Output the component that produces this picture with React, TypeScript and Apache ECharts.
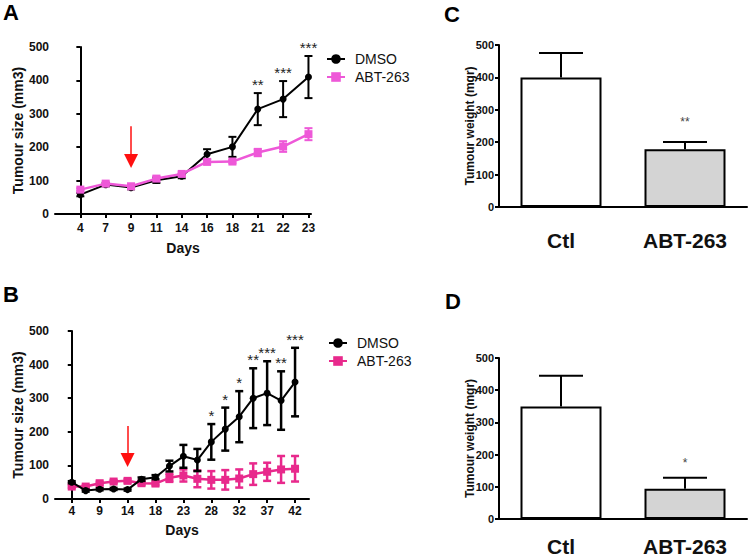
import React, { useEffect, useRef } from 'react';
import * as echarts from 'echarts';

// ---------- Panel A ----------
const daysA = ['4', '7', '9', '11', '14', '16', '18', '21', '22', '23'];
const dmsoA = [58, 88, 79, 101, 113, 179, 201, 314, 344, 410];
const dmsoAErr = [5, 5, 5, 8, 6, 15, 30, 48, 54, 63];
const abtA = [73, 91, 83, 106, 120, 156, 157, 184, 202, 239];
const abtAErr = [4, 4, 4, 6, 5, 6, 5, 11, 16, 18];
const sigA = ['', '', '', '', '', '', '', '**', '***', '***'];
const arrowA = { idx: 2, from: 263, to: 159 };

// ---------- Panel B ----------
const daysB = ['4', '', '9', '', '14', '', '18', '', '23', '', '28', '', '32', '', '37', '', '42'];
const dmsoB = [50, 25, 29, 30, 28, 59, 65, 98, 127, 116, 170, 208, 245, 300, 315, 293, 348];
const dmsoBErr = [3, 3, 3, 3, 3, 5, 6, 16, 34, 33, 53, 64, 76, 89, 95, 87, 102];
const abtB = [37, 37, 47, 52, 54, 47, 46, 63, 70, 60, 57, 57, 61, 74, 81, 88, 90];
const abtBErr = [4, 4, 4, 4, 5, 5, 5, 12, 18, 25, 26, 29, 27, 32, 27, 40, 38];
const sigB = ['', '', '', '', '', '', '', '', '', '', '*', '*', '*', '**', '***', '**', '***'];
const arrowB = { idx: 4, from: 217, to: 116 };

// ---------- Panels C & D ----------
const groups = ['Ctl', 'ABT-263'];
const weightC = [400, 178];
const weightCErr = [75, 23];
const sigC = ['', '**'];
const weightD = [349, 94];
const weightDErr = [96, 34];
const sigD = ['', '*'];

const FONT = '"Liberation Sans", Arial, Helvetica, sans-serif';
const TXT = '#111';
const PINK_A = '#ee58d8';
const PINK_B = '#e8298c';
const BAR_FILLS = ['#ffffff', '#d4d4d4'];

function errSeries(
  xAxisIndex: number,
  yAxisIndex: number,
  means: number[],
  errs: number[],
  sigs: string[],
  color: string,
  lw: number,
  capW: number,
  both: boolean,
  sigFont: string,
  sigColor: string,
  sigGap: number,
  z: number
) {
  const data = means.map((m, i) => [i, m - errs[i], m + errs[i], m]);
  return {
    type: 'custom',
    xAxisIndex,
    yAxisIndex,
    z,
    silent: true,
    clip: false,
    color: sigColor,
    itemStyle: { color: sigColor },
    encode: { x: 0, y: [1, 2] },
    data,
    renderItem: (params: any, api: any) => {
      const x = api.value(0);
      const lo = api.value(1);
      const hi = api.value(2);
      const m = api.value(3);
      const top = api.coord([x, hi]);
      const bot = api.coord([x, both ? lo : m]);
      const children: any[] = [
        {
          type: 'line',
          shape: { x1: top[0], y1: top[1], x2: bot[0], y2: bot[1] },
          style: { stroke: color, lineWidth: lw },
        },
        {
          type: 'line',
          shape: { x1: top[0] - capW / 2, y1: top[1], x2: top[0] + capW / 2, y2: top[1] },
          style: { stroke: color, lineWidth: lw },
        },
      ];
      if (both) {
        children.push({
          type: 'line',
          shape: { x1: bot[0] - capW / 2, y1: bot[1], x2: bot[0] + capW / 2, y2: bot[1] },
          style: { stroke: color, lineWidth: lw },
        });
      }
      const s = sigs[params.dataIndex];
      if (s) {
        children.push({
          type: 'text',
          style: {
            text: s,
            x: top[0],
            y: top[1] - sigGap,
            align: 'center',
            verticalAlign: 'bottom',
            font: sigFont,
            fill: sigColor,
          },
        });
      }
      return { type: 'group', children };
    },
  };
}

function yAxisCfg(gridIndex: number, name: string, nameGap: number, nameSize: number, labelSize: number, margin: number) {
  return {
    type: 'value',
    gridIndex,
    min: 0,
    max: 500,
    interval: 100,
    name,
    nameLocation: 'middle',
    nameGap,
    nameMoveOverlap: false,
    nameTextStyle: { fontFamily: FONT, fontWeight: 'bold', fontSize: nameSize, color: TXT },
    axisLine: { show: true, lineStyle: { color: '#000', width: 2 } },
    axisTick: { show: true, inside: false, length: 4, lineStyle: { color: '#000', width: 2 } },
    axisLabel: { fontFamily: FONT, fontWeight: 'bold', fontSize: labelSize, color: TXT, margin },
    splitLine: { show: false },
  };
}

function xAxisTime(gridIndex: number, min: number, max: number, labels: string[], margin: number, nameGap: number) {
  const vals = labels.map((_, i) => i).filter((i) => labels[i] !== '');
  return {
    type: 'value',
    gridIndex,
    min,
    max,
    name: 'Days',
    nameLocation: 'middle',
    nameGap,
    nameMoveOverlap: false,
    nameTextStyle: { fontFamily: FONT, fontWeight: 'bold', fontSize: 14, color: TXT },
    axisLine: { show: true, onZero: false, lineStyle: { color: '#000', width: 2 } },
    axisTick: { show: true, length: 4, customValues: vals, lineStyle: { color: '#000', width: 2 } },
    axisLabel: {
      customValues: vals,
      fontFamily: FONT,
      fontWeight: 'bold',
      fontSize: 12,
      color: TXT,
      margin,
      formatter: (v: number) => labels[Math.round(v)] ?? '',
    },
    splitLine: { show: false },
  };
}

function xAxisBars(gridIndex: number, margin: number) {
  return {
    type: 'category',
    gridIndex,
    data: groups,
    axisLine: { show: true, lineStyle: { color: '#000', width: 2 } },
    axisTick: { show: false },
    axisLabel: { fontFamily: FONT, fontWeight: 'bold', fontSize: 21, color: TXT, margin },
  };
}

function arrowLine(a: { idx: number; from: number; to: number }) {
  return {
    silent: true,
    symbol: ['none', 'triangle'],
    symbolSize: 14,
    lineStyle: { color: '#ff1010', width: 1.5, type: 'solid' },
    itemStyle: { color: '#ff1010' },
    label: { show: false },
    emphasis: { disabled: true },
    data: [[{ coord: [a.idx, a.from] }, { coord: [a.idx, a.to] }]],
  };
}

function barSeries(xAxisIndex: number, yAxisIndex: number, vals: number[]) {
  return {
    type: 'bar',
    xAxisIndex,
    yAxisIndex,
    barWidth: 81,
    z: 2,
    data: vals.map((v, i) => ({ value: v, itemStyle: { color: BAR_FILLS[i] } })),
    itemStyle: { borderColor: '#000', borderWidth: 2 },
  };
}

export default function App() {
  const ref = useRef<HTMLDivElement>(null);
  useEffect(() => {
    if (!ref.current) return;
    const chart = echarts.init(ref.current, null, { renderer: 'svg' });
    const legendBase = {
      orient: 'vertical',
      padding: 0,
      itemWidth: 18,
      itemHeight: 12,
      itemGap: 4,
      selectedMode: false,
      textStyle: { fontFamily: FONT, fontSize: 14, color: TXT, padding: [0, 0, 0, 5] },
    };
    const option: any = {
      animation: false,
      backgroundColor: '#fff',
      textStyle: { fontFamily: FONT },
      grid: [
        { left: 55, top: 47, width: 256, height: 167 },
        { left: 55, top: 331, width: 254, height: 168 },
        { left: 499, top: 45, width: 248, height: 162 },
        { left: 499, top: 358, width: 248, height: 162 },
      ],
      xAxis: [
        xAxisTime(0, -1, 9.1, daysA, 8, 27),
        xAxisTime(1, -1.2, 17, daysB, 6, 24),
        xAxisBars(2, 23),
        xAxisBars(3, 17),
      ],
      yAxis: [
        yAxisCfg(0, 'Tumour size (mm3)', 30, 14, 12, 6),
        yAxisCfg(1, 'Tumour size (mm3)', 30, 14, 12, 6),
        yAxisCfg(2, 'Tumour weight (mgr)', 23, 12, 11, 5),
        yAxisCfg(3, 'Tumour weight (mgr)', 23, 12, 11, 5),
      ],
      legend: [
        {
          ...legendBase,
          left: 326,
          top: 52,
          data: ['DMSO', 'ABT-263'],
        },
        {
          ...legendBase,
          left: 328,
          top: 336,
          data: [
            { name: 'DMSO' },
            { name: 'ABT-263', itemStyle: { color: PINK_B }, lineStyle: { color: PINK_B } },
          ],
        },
      ],
      graphic: [
        { type: 'text', left: 3, top: 1, style: { text: 'A', font: `bold 22px ${FONT}`, fill: '#000' } },
        { type: 'text', left: 3, top: 283, style: { text: 'B', font: `bold 22px ${FONT}`, fill: '#000' } },
        { type: 'text', left: 444, top: 3, style: { text: 'C', font: `bold 22px ${FONT}`, fill: '#000' } },
        { type: 'text', left: 445, top: 290, style: { text: 'D', font: `bold 22px ${FONT}`, fill: '#000' } },
      ],
      series: [
        // Panel A
        errSeries(0, 0, dmsoA, dmsoAErr, sigA, '#000', 2, 8, true, `15px ${FONT}`, '#222', 1, 3),
        {
          name: 'DMSO',
          type: 'line',
          xAxisIndex: 0,
          yAxisIndex: 0,
          z: 4,
          data: dmsoA.map((v, i) => [i, v]),
          symbol: 'circle',
          symbolSize: 7,
          color: '#000',
          lineStyle: { width: 2, color: '#000' },
          markLine: arrowLine(arrowA),
        },
        errSeries(0, 0, abtA, abtAErr, abtA.map(() => ''), PINK_A, 2, 8, true, `15px ${FONT}`, '#222', 1, 5),
        {
          name: 'ABT-263',
          type: 'line',
          xAxisIndex: 0,
          yAxisIndex: 0,
          z: 6,
          data: abtA.map((v, i) => [i, v]),
          symbol: 'rect',
          symbolSize: 8,
          color: PINK_A,
          lineStyle: { width: 2.5, color: PINK_A },
        },
        // Panel B
        {
          name: 'ABT-263',
          type: 'line',
          xAxisIndex: 1,
          yAxisIndex: 1,
          z: 4,
          data: abtB.map((v, i) => [i, v]),
          symbol: 'rect',
          symbolSize: 8,
          color: PINK_B,
          lineStyle: { width: 2.5, color: PINK_B },
        },
        errSeries(1, 1, abtB, abtBErr, abtB.map(() => ''), PINK_B, 2.5, 8, true, `15px ${FONT}`, '#222', 1, 3),
        errSeries(1, 1, dmsoB, dmsoBErr, sigB, '#000', 2.5, 8, true, `15px ${FONT}`, '#222', 1, 5),
        {
          name: 'DMSO',
          type: 'line',
          xAxisIndex: 1,
          yAxisIndex: 1,
          z: 6,
          data: dmsoB.map((v, i) => [i, v]),
          symbol: 'circle',
          symbolSize: 7,
          color: '#000',
          lineStyle: { width: 2, color: '#000' },
          markLine: arrowLine(arrowB),
        },
        // Panel C
        errSeries(2, 2, weightC, weightCErr, sigC, '#000', 2, 44, false, `12px ${FONT}`, '#444', 14, 1),
        barSeries(2, 2, weightC),
        // Panel D
        errSeries(3, 3, weightD, weightDErr, sigD, '#000', 2, 44, false, `12px ${FONT}`, '#444', 9, 1),
        barSeries(3, 3, weightD),
      ],
    };
    chart.setOption(option);
    return () => chart.dispose();
  }, []);
  return (
    <div
      ref={ref}
      style={{ position: 'fixed', left: 0, top: 0, width: 750, height: 557, background: '#fff' }}
    />
  );
}
